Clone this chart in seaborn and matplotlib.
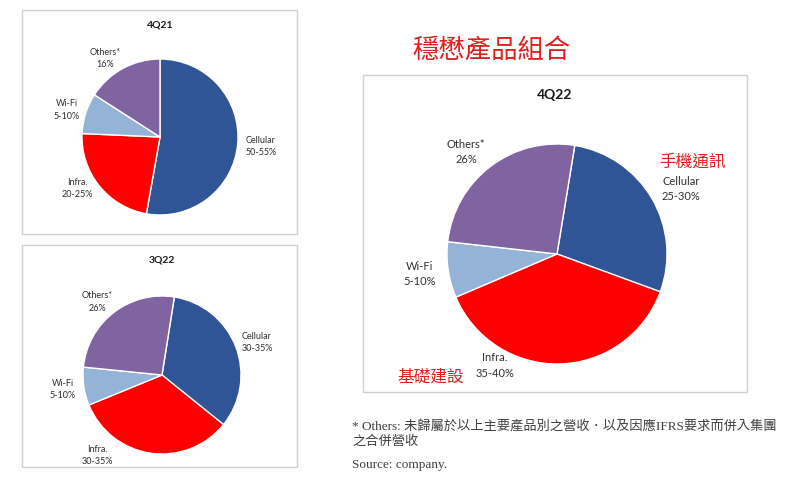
import matplotlib
matplotlib.use("Agg")
import matplotlib.pyplot as plt
from matplotlib.patches import Rectangle
import seaborn as sns

# ---- data ----
categories = ["Cellular", "Infra.", "Wi-Fi", "Others*"]
share_4q21 = [52.8, 22.9, 8.4, 15.9]
share_3q22 = [33.3, 33.0, 7.8, 25.9]
share_4q22 = [28.0, 38.0, 8.2, 25.8]
labels_4q21 = ["Cellular\n50-55%", "Infra.\n20-25%", "Wi-Fi\n5-10%", "Others*\n16%"]
labels_3q22 = ["Cellular\n30-35%", "Infra.\n30-35%", "Wi-Fi\n5-10%", "Others*\n26%"]
labels_4q22 = ["Cellular\n25-30%", "Infra.\n35-40%", "Wi-Fi\n5-10%", "Others*\n26%"]
titles = ["4Q21", "3Q22", "4Q22"]
main_title = "穩懋產品組合"
zh_cellular = "手機通訊"
zh_infra = "基礎建設"
footnote_1 = "* Others: 未歸屬於以上主要產品別之營收．以及因應IFRS要求而併入集團"
footnote_2 = "之合併營收"
source = "Source: company."

sns.set_theme(style="white")
colors = sns.color_palette(["#2F5597", "#FF0000", "#95B3D7", "#8064A2"])
plt.rcParams['font.family'] = ['Lato', 'Noto Sans CJK TC', 'DejaVu Sans']

W, H = 792, 482
fig = plt.figure(figsize=(W / 100, H / 100), dpi=100)
fig.patch.set_facecolor("white")


def fx(x):
    return x / W


def fy(y):
    return 1 - y / H


def box(x0, y0, x1, y1):
    fig.add_artist(Rectangle((fx(x0), fy(y1)), fx(x1) - fx(x0), fy(y0) - fy(y1),
                             transform=fig.transFigure, fill=False,
                             edgecolor="#D0D0D0", linewidth=1.0))


def pie(cx, cy, r, values, startangle):
    ax = fig.add_axes([fx(cx - r), fy(cy + r), 2 * r / W, 2 * r / H])
    ax.pie(values, colors=colors, startangle=startangle, counterclock=False,
           wedgeprops=dict(edgecolor="white", linewidth=1.0))
    ax.set_xlim(-1, 1)
    ax.set_ylim(-1, 1)
    ax.axis("off")
    return ax


def label(x, y, s, size, ls):
    fig.text(fx(x), fy(y), s, ha="center", va="center", fontsize=size,
             linespacing=ls, color="#303030", multialignment="center")


# ---- boxes ----
box(22, 10, 297, 234)
box(22, 245, 297, 467)
box(363, 75, 747, 392)

# ---- 4Q21 ----
pie(160, 137, 78, share_4q21, 90)
fig.text(fx(160), fy(25), titles[0], ha="center", va="center", fontsize=7.5,
         fontweight="bold", color="#1a1a1a")
pos_4q21 = [(261, 146.5), (77, 188.5), (67, 110), (105, 58.5)]
for (x, y), s in zip(pos_4q21, labels_4q21):
    label(x, y, s, 6.5, 1.45)

# ---- 3Q22 ----
pie(162, 375, 79, share_3q22, 81)
fig.text(fx(162), fy(260), titles[1], ha="center", va="center", fontsize=7.5,
         fontweight="bold", color="#1a1a1a")
pos_3q22 = [(257, 342.5), (97, 455.5), (63, 389.5), (97, 302)]
for (x, y), s in zip(pos_3q22, labels_3q22):
    label(x, y, s, 6.5, 1.45)

# ---- 4Q22 ----
pie(557, 254, 110, share_4q22, 80.7)
fig.text(fx(555), fy(95), titles[2], ha="center", va="center", fontsize=10,
         fontweight="bold", color="#1a1a1a")
pos_4q22 = [(681, 189), (495, 365.5), (420, 274), (466, 152)]
for (x, y), s in zip(pos_4q22, labels_4q22):
    label(x, y, s, 8, 1.45)

# ---- red annotations ----
red = "#E02020"
fig.text(fx(491), fy(50), main_title, ha="center", va="center", fontsize=19,
         color=red, family=['Noto Sans CJK TC', 'DejaVu Sans'])
fig.text(fx(692), fy(162), zh_cellular, ha="center", va="center", fontsize=12,
         color=red, family=['Noto Sans CJK TC', 'DejaVu Sans'])
fig.text(fx(431), fy(377), zh_infra, ha="center", va="center", fontsize=12,
         color=red, family=['Noto Sans CJK TC', 'DejaVu Sans'])

# ---- footnote ----
fam_fn = ['Liberation Serif', 'Noto Sans CJK TC', 'DejaVu Sans']
fig.text(fx(352), fy(426), footnote_1, ha="left", va="center", fontsize=9.5,
         color="#404040", family=fam_fn)
fig.text(fx(352), fy(442), footnote_2, ha="left", va="center", fontsize=9.5,
         color="#404040", family=fam_fn)
fig.text(fx(352), fy(465), source, ha="left", va="center", fontsize=9.5,
         color="#404040", family=fam_fn)

fig.savefig("out.png", dpi=100, facecolor="white")
